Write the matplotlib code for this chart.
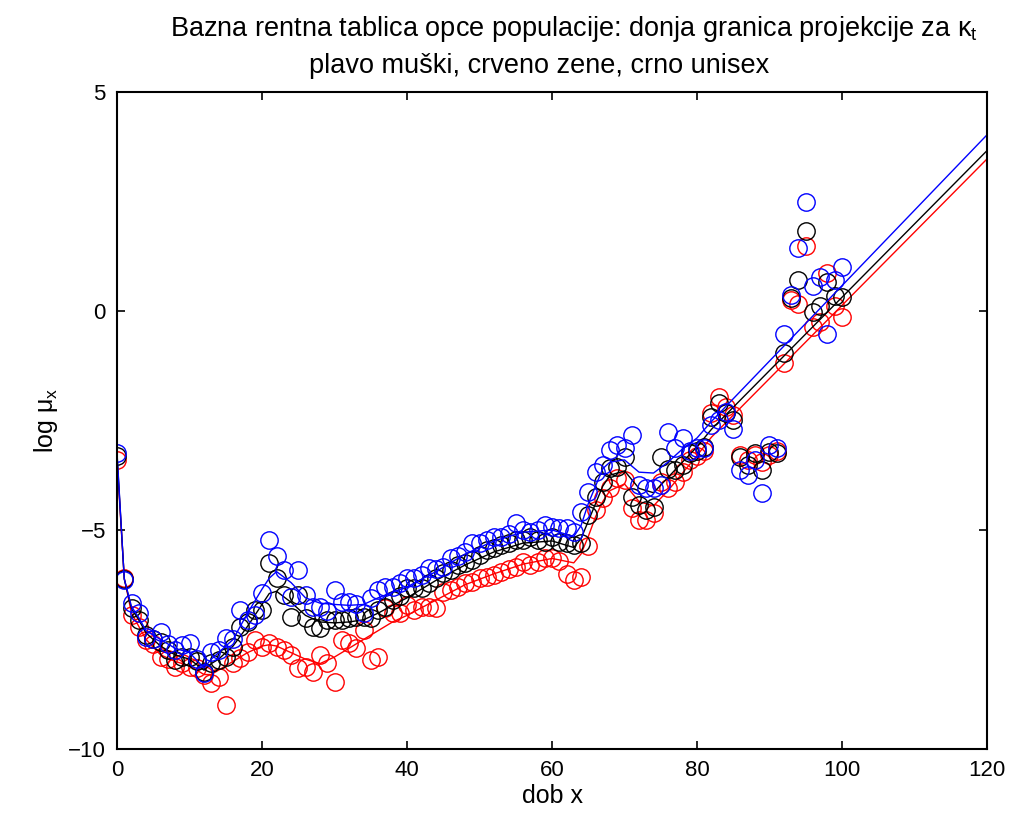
import matplotlib
matplotlib.use("Agg")
import matplotlib.pyplot as plt

# ages 0..100, observed log mortality
ages = list(range(0, 101))

muski = [-3.24, -6.14, -6.67, -6.9, -7.45, -7.5, -7.33, -7.6, -7.75, -7.63,
         -7.58, -7.95, -8.26, -7.79, -7.74, -7.47, -7.5, -6.83, -7.05, -6.95,
         -6.44, -5.23, -5.59, -5.91, -6.53, -5.91, -6.48, -6.75, -6.76, -6.85,
         -6.37, -6.64, -6.64, -6.7, -6.9, -6.55, -6.37, -6.3, -6.3, -6.21,
         -6.1, -6.1, -6.03, -5.87, -5.9, -5.84, -5.64, -5.6, -5.5, -5.3,
         -5.3, -5.23, -5.16, -5.16, -5.1, -4.84, -5.0, -5.04, -5.0, -4.89,
         -4.93, -4.96, -4.96, -5.04, -4.6, -4.13, -3.68, -3.52, -3.17, -3.06,
         -3.13, -2.83, -3.97, -4.04, -4.04, -3.97, -2.76, -3.13, -2.9, -3.2,
         -3.13, -3.13, -2.6, -2.49, -2.3, -2.69, -3.63, -3.74, -3.4, -4.16,
         -3.06, -3.13, -0.52, 0.37, 1.44, 2.49, 0.57, 0.78, -0.52, 0.7,
         1.0]

unisex = [-3.3, -6.12, -6.78, -7.05, -7.4, -7.5, -7.56, -7.74, -7.97, -7.9,
          -7.9, -8.0, -8.24, -8.04, -7.97, -7.9, -7.67, -7.21, -7.1, -6.83,
          -6.83, -5.75, -6.1, -6.48, -6.98, -6.48, -7.0, -7.21, -7.24, -7.05,
          -7.05, -7.05, -7.0, -6.98, -6.98, -7.0, -6.83, -6.75, -6.6, -6.5,
          -6.32, -6.32, -6.32, -6.21, -6.1, -5.98, -5.91, -5.8, -5.75, -5.68,
          -5.57, -5.46, -5.4, -5.34, -5.3, -5.23, -5.23, -5.16, -5.23, -5.27,
          -5.16, -5.27, -5.3, -5.34, -5.3, -4.66, -4.25, -3.9, -3.58, -3.56,
          -3.33, -4.25, -4.43, -4.54, -4.47, -3.33, -3.6, -3.63, -3.52, -3.24,
          -3.2, -3.1, -2.42, -2.1, -2.33, -2.49, -3.33, -3.52, -3.24, -3.63,
          -3.22, -3.24, -0.96, 0.3, 0.71, 1.83, -0.02, 0.11, 0.66, 0.34,
          0.32]

zene = [-3.4, -6.1, -6.94, -7.21, -7.51, -7.6, -7.9, -7.95, -8.13, -8.04,
        -8.13, -8.15, -8.3, -8.49, -8.36, -9.0, -8.04, -7.92, -7.79, -7.51,
        -7.67, -7.58, -7.67, -7.74, -7.85, -8.15, -8.13, -8.24, -7.85, -8.04,
        -8.47, -7.51, -7.58, -7.69, -7.28, -7.97, -7.9, -6.78, -6.9, -6.9,
        -6.71, -6.83, -6.76, -6.76, -6.78, -6.42, -6.37, -6.3, -6.21, -6.19,
        -6.1, -6.07, -6.03, -5.95, -5.9, -5.84, -5.73, -5.8, -5.73, -5.64,
        -5.64, -5.7, -6.0, -6.14, -6.07, -5.37, -4.54, -4.27, -4.04, -3.81,
        -3.86, -4.5, -4.77, -4.77, -4.61, -3.9, -4.04, -3.9, -3.68, -3.4,
        -3.3, -3.2, -2.33, -1.96, -2.19, -2.37, -3.29, -3.4, -3.29, -3.45,
        -3.29, -3.2, -1.19, 0.25, 0.16, 1.48, -0.37, -0.25, 0.87, 0.11,
        -0.13]

# fitted / projected curves (knots)
fit_ages = [0, 1, 2, 3, 4, 6, 8, 10, 12, 13, 14, 16, 18, 20, 21, 22, 24, 26, 28,
            30, 32, 34, 36, 38, 40, 44, 48, 52, 56, 60, 63, 64, 65, 66, 67, 68,
            70, 72, 74, 76, 78, 80, 82, 120]

fit_muski = [-3.24, -6.12, -6.75, -7.0, -7.3, -7.5, -7.7, -7.8, -8.15, -7.95,
             -7.8, -7.5, -6.9, -6.35, -6.1, -5.95, -6.2, -6.55, -6.67, -6.7,
             -6.72, -6.7, -6.55, -6.42, -6.3, -5.95, -5.55, -5.25, -5.05, -5.0,
             -5.15, -4.9, -4.4, -4.0, -3.6, -3.45, -3.4, -3.68, -3.7, -3.45,
             -3.15, -2.9, -2.52, 4.02]

fit_unisex = [-3.3, -6.12, -6.8, -7.05, -7.35, -7.65, -7.85, -7.95, -8.2, -8.05,
              -7.95, -7.65, -7.2, -6.7, -6.45, -6.4, -6.65, -6.95, -7.1, -7.12,
              -7.1, -7.05, -6.9, -6.72, -6.55, -6.15, -5.8, -5.5, -5.3, -5.25,
              -5.4, -5.2, -4.8, -4.4, -4.0, -3.75, -3.65, -4.05, -4.15, -3.8,
              -3.45, -3.1, -2.7, 3.66]

fit_zene = [-3.4, -6.1, -6.9, -7.2, -7.5, -7.85, -8.0, -8.1, -8.3, -8.3,
            -8.2, -8.0, -7.8, -7.65, -7.62, -7.65, -7.8, -7.95, -8.05, -7.9,
            -7.7, -7.5, -7.3, -7.1, -6.95, -6.6, -6.25, -6.0, -5.78, -5.65,
            -5.75, -5.55, -5.15, -4.7, -4.35, -4.1, -3.95, -4.35, -4.45, -4.1,
            -3.7, -3.3, -2.88, 3.47]

plt.rcParams['font.family'] = ['Liberation Sans', 'DejaVu Sans']
plt.rcParams['mathtext.fontset'] = 'custom'
plt.rcParams['mathtext.rm'] = 'Liberation Sans'
plt.rcParams['mathtext.it'] = 'Liberation Sans'

fig = plt.figure(figsize=(10.15, 8.21), dpi=100)
ax = fig.add_axes([0.1153, 0.0877, 0.8571, 0.8003])

series = [
    (zene, fit_zene, 'red'),
    (unisex, fit_unisex, 'black'),
    (muski, fit_muski, 'blue'),
]
for obs, fit, col in series:
    ax.plot(ages, obs, 'o', mfc='none', mec=col, ms=12.5, mew=1.0)
    ax.plot(fit_ages, fit, '-', color=col, lw=1.0)

ax.set_xlim(0, 120)
ax.set_ylim(-10, 5)
ax.set_xticks([0, 20, 40, 60, 80, 100, 120])
ax.set_yticks([-10, -5, 0, 5])
ax.set_yticklabels(['\u221210', '\u22125', '0', '5'])
ax.tick_params(direction='in', length=6, width=1.2, labelsize=16,
               top=True, right=True, pad=8)
for sp in ax.spines.values():
    sp.set_linewidth(1.5)

ax.set_xlabel('dob x', fontsize=18, labelpad=2)
ax.set_ylabel('log μ$_{\\mathrm{x}}$', fontsize=18, labelpad=6)

fig.text(0.566, 0.965, 'Bazna rentna tablica opce populacije: donja granica projekcije za κ$_{\\mathrm{t}}$',
         ha='center', va='center', fontsize=19.5)
fig.text(0.531, 0.920, 'plavo muški, crveno zene, crno unisex',
         ha='center', va='center', fontsize=19.5)

fig.savefig('out.png', dpi=100)
